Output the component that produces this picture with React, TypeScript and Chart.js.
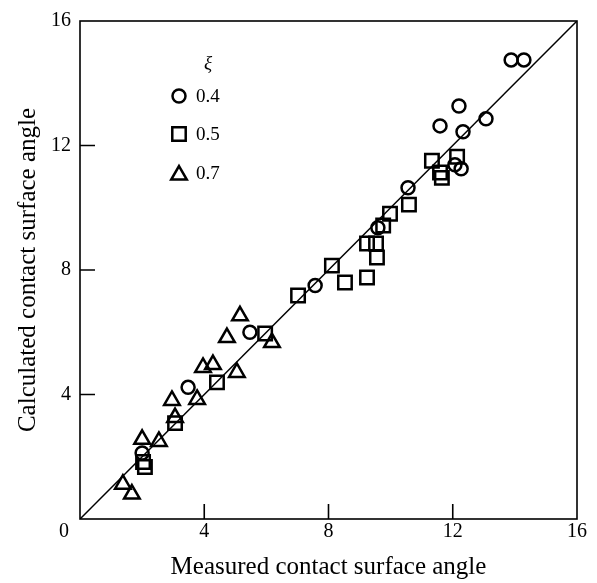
import React, { useEffect, useRef } from 'react';
import { Chart, registerables } from 'chart.js';

Chart.register(...registerables);

const AXIS_TICKS = [4, 8, 12, 16];
const INNER_TICKS = [4, 8, 12];
const SERIES_LABELS = ['0.4', '0.5', '0.7'];
const LEGEND_TITLE = 'ξ';
const X_TITLE = 'Measured contact surface angle';
const Y_TITLE = 'Calculated contact surface angle';
const CORNER_LABEL = '0';

const XI04_MEASURED = [13.88, 14.29, 12.2, 11.59, 13.07, 12.33, 12.07, 12.27, 10.56, 9.59, 7.57, 5.47, 3.48, 2.0];
const XI04_CALCULATED = [14.75, 14.75, 13.27, 12.63, 12.86, 12.44, 11.38, 11.25, 10.64, 9.36, 7.5, 6.0, 4.23, 2.12];

const XI05_MEASURED = [11.33, 12.14, 11.59, 11.65, 10.59, 9.98, 9.76, 9.24, 9.53, 9.56, 9.24, 8.53, 8.11, 7.02, 5.96, 4.41, 3.06, 2.09, 2.03];
const XI05_CALCULATED = [11.51, 11.64, 11.13, 10.96, 10.1, 9.81, 9.43, 8.85, 8.85, 8.4, 7.76, 7.6, 8.14, 7.18, 5.96, 4.39, 3.08, 1.67, 1.83];

const XI07_MEASURED = [5.15, 4.73, 6.18, 3.96, 4.28, 5.05, 3.77, 2.96, 3.06, 2.0, 2.54, 1.38, 1.67];
const XI07_CALCULATED = [6.53, 5.83, 5.67, 4.87, 4.96, 4.71, 3.84, 3.81, 3.26, 2.56, 2.49, 1.12, 0.8];

const PARITY_X = [0, 16];
const PARITY_Y = [0, 16];

const FONT = "'Liberation Serif', 'Times New Roman', serif";

function pts(xs: number[], ys: number[]) {
  return xs.map((x, i) => ({ x, y: ys[i] }));
}

function drawMarker(ctx: CanvasRenderingContext2D, kind: string, cx: number, cy: number) {
  ctx.beginPath();
  if (kind === 'circle') {
    ctx.arc(cx, cy, 6.5, 0, Math.PI * 2);
  } else if (kind === 'rect') {
    const s = 9.5 * Math.SQRT1_2;
    ctx.rect(cx - s, cy - s, 2 * s, 2 * s);
  } else {
    const r = 9;
    ctx.moveTo(cx, cy - r);
    ctx.lineTo(cx + r * Math.sin((2 * Math.PI) / 3), cy - r * Math.cos((2 * Math.PI) / 3));
    ctx.lineTo(cx + r * Math.sin((4 * Math.PI) / 3), cy - r * Math.cos((4 * Math.PI) / 3));
    ctx.closePath();
  }
  ctx.stroke();
}

const framePlugin = {
  id: 'frameAndLegend',
  afterDatasetsDraw(chart: any) {
    const { ctx, chartArea, scales } = chart;
    const { left, right, top, bottom } = chartArea;
    const xs = scales.x;
    const ys = scales.y;
    ctx.save();
    ctx.strokeStyle = '#000';
    ctx.lineWidth = 1.6;
    ctx.strokeRect(left, top, right - left, bottom - top);
    ctx.beginPath();
    INNER_TICKS.forEach((v) => {
      const px = xs.getPixelForValue(v);
      ctx.moveTo(px, bottom);
      ctx.lineTo(px, bottom - 15);
      const py = ys.getPixelForValue(v);
      ctx.moveTo(left, py);
      ctx.lineTo(left + 15, py);
    });
    ctx.stroke();

    ctx.fillStyle = '#000';
    ctx.font = `20px ${FONT}`;
    ctx.textAlign = 'right';
    ctx.textBaseline = 'middle';
    ctx.fillText(CORNER_LABEL, left - 11, bottom + 13);

    // legend
    const mx = left + 99;
    const rows = [top + 75, top + 113, top + 152];
    const kinds = ['circle', 'rect', 'triangle'];
    ctx.textAlign = 'center';
    ctx.font = `italic 19px ${FONT}`;
    ctx.fillText(LEGEND_TITLE, mx + 29, top + 43);
    ctx.font = `19px ${FONT}`;
    ctx.textAlign = 'left';
    ctx.lineWidth = 2.5;
    SERIES_LABELS.forEach((lab, i) => {
      drawMarker(ctx, kinds[i], mx, rows[i] + (kinds[i] === 'triangle' ? 2 : 0));
      ctx.fillText(lab, mx + 17, rows[i] + 1);
    });
    ctx.restore();
  },
};

export default function App() {
  const ref = useRef<HTMLCanvasElement | null>(null);
  useEffect(() => {
    if (!ref.current) return;
    const common = {
      showLine: false,
      borderColor: '#000',
      backgroundColor: 'rgba(0,0,0,0)',
      borderWidth: 2.5,
    };
    const chart = new Chart(ref.current, {
      type: 'scatter',
      data: {
        datasets: [
          {
            type: 'line',
            label: 'parity',
            data: pts(PARITY_X, PARITY_Y),
            borderColor: '#000',
            borderWidth: 1.5,
            pointRadius: 0,
            fill: false,
          } as any,
          { ...common, label: SERIES_LABELS[0], data: pts(XI04_MEASURED, XI04_CALCULATED), pointStyle: 'circle', pointRadius: 6.5 },
          { ...common, label: SERIES_LABELS[1], data: pts(XI05_MEASURED, XI05_CALCULATED), pointStyle: 'rect', pointRadius: 9.5 },
          { ...common, label: SERIES_LABELS[2], data: pts(XI07_MEASURED, XI07_CALCULATED), pointStyle: 'triangle', pointRadius: 9 },
        ],
      },
      options: {
        responsive: true,
        maintainAspectRatio: false,
        animation: false,
        layout: { padding: { top: 15, right: 20, left: 0, bottom: 0 } },
        plugins: { legend: { display: false }, tooltip: { enabled: false } },
        scales: {
          x: {
            type: 'linear',
            min: 0,
            max: 16,
            afterBuildTicks: (s: any) => {
              s.ticks = AXIS_TICKS.map((v) => ({ value: v }));
            },
            afterFit: (s: any) => {
              s.height = 64;
            },
            grid: { display: false, drawTicks: false },
            border: { display: false },
            ticks: { font: { family: FONT, size: 20 }, color: '#000', padding: 1, maxRotation: 0, autoSkip: false },
            title: { display: true, text: X_TITLE, color: '#000', font: { family: FONT, size: 25 }, padding: { top: 0, bottom: 1 } },
          },
          y: {
            type: 'linear',
            min: 0,
            max: 16,
            afterBuildTicks: (s: any) => {
              s.ticks = AXIS_TICKS.map((v) => ({ value: v }));
            },
            afterFit: (s: any) => {
              s.width = 80;
            },
            grid: { display: false, drawTicks: false },
            border: { display: false },
            ticks: { font: { family: FONT, size: 20 }, color: '#000', padding: 9, autoSkip: false },
            title: { display: true, text: Y_TITLE, color: '#000', font: { family: FONT, size: 25 }, padding: { top: 13, bottom: 0 } },
          },
        },
      } as any,
      plugins: [framePlugin],
    });
    return () => chart.destroy();
  }, []);
  return (
    <div style={{ position: 'absolute', left: 0, top: 0, width: 597, height: 583, background: '#fff' }}>
      <canvas ref={ref} />
    </div>
  );
}
